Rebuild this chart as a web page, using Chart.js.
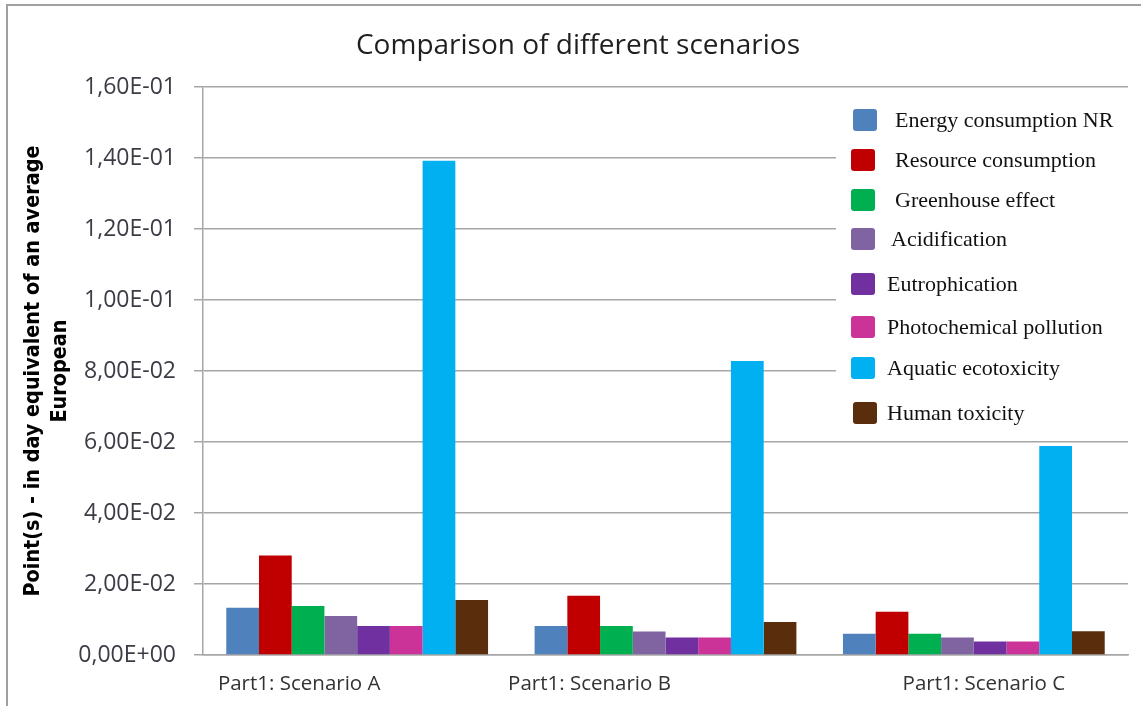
<!DOCTYPE html>
<html><head><meta charset="utf-8">
<script src="https://cdn.jsdelivr.net/npm/chart.js@4.4.1/dist/chart.umd.min.js"></script>
<style>html,body{margin:0;padding:0;background:#fff;overflow:hidden}</style>
</head><body>
<canvas id="c" width="1141" height="706"></canvas>
<script>
const categories = ["Part1: Scenario A", "Part1: Scenario B", "Part1: Scenario C"];
const seriesNames = ["Energy consumption NR", "Resource consumption", "Greenhouse effect", "Acidification",
  "Eutrophication", "Photochemical pollution", "Aquatic ecotoxicity", "Human toxicity"];
const energy = [0.0133, 0.0082, 0.0060];
const resource = [0.0280, 0.0167, 0.0122];
const greenhouse = [0.0138, 0.0082, 0.0060];
const acidification = [0.0110, 0.0066, 0.0049];
const eutrophication = [0.0082, 0.0049, 0.0038];
const photochemical = [0.0082, 0.0049, 0.0038];
const aquatic = [0.1392, 0.0828, 0.0589];
const human = [0.0155, 0.0093, 0.0067];
const yTickLabels = ["0,00E+00", "2,00E-02", "4,00E-02", "6,00E-02", "8,00E-02", "1,00E-01", "1,20E-01", "1,40E-01", "1,60E-01"];
const chartTitle = "Comparison of different scenarios";
const yTitle = ["Point(s) - in day equivalent of an average", "European"];

const seriesValues = [energy, resource, greenhouse, acidification, eutrophication, photochemical, aquatic, human];
const colors = ["#4F81BD", "#C00000", "#00B050", "#8064A2", "#7030A0", "#CC3399", "#00B0F0", "#5A2D0C"];

const GRID = "#a6a6a6";
const SANS = "'Open Sans', 'Noto Sans', sans-serif";

const decorPlugin = {
  id: "decor",
  beforeDraw(chart) {
    const ctx = chart.ctx;
    ctx.save();
    ctx.fillStyle = "#fff";
    ctx.fillRect(0, 0, chart.width, chart.height);
    ctx.strokeStyle = "#a0a0a0";
    ctx.lineWidth = 2;
    ctx.beginPath();
    ctx.moveTo(7, chart.height);
    ctx.lineTo(7, 5);
    ctx.lineTo(chart.width, 5);
    ctx.stroke();
    ctx.restore();
  },
  afterDraw(chart) {
    const ctx = chart.ctx;
    ctx.save();
    // title
    ctx.fillStyle = "#1f1f1f";
    ctx.font = "28px " + SANS;
    ctx.textAlign = "center";
    ctx.textBaseline = "middle";
    ctx.fillText(chartTitle, 578, 46);
    // x category labels
    const xs = chart.scales.x;
    const shift = [-58, -76, 10];
    ctx.fillStyle = "#333";
    ctx.font = "20.5px " + SANS;
    categories.forEach((c, i) => {
      ctx.fillText(c, xs.getPixelForValue(i) + shift[i], 684);
    });
    // legend
    ctx.fillStyle = "#fff";
    ctx.fillRect(836, 93, 300, 342);
    const rowY = [120, 160, 200, 239, 284, 327, 368, 413];
    const textX = [895, 895, 895, 891, 887, 887, 887, 887];
    const boxX = [853, 851, 851, 851, 851, 851, 851, 853];
    ctx.font = "22px 'Liberation Serif', 'DejaVu Serif', serif";
    ctx.textAlign = "left";
    seriesNames.forEach((n, i) => {
      ctx.fillStyle = colors[i];
      ctx.beginPath();
      ctx.roundRect(boxX[i], rowY[i] - 11, 24, 22, 3);
      ctx.fill();
      ctx.fillStyle = "#111";
      ctx.fillText(n, textX[i], rowY[i] + 1);
    });
    ctx.restore();
  }
};

new Chart(document.getElementById("c"), {
  type: "bar",
  data: {
    labels: categories,
    datasets: seriesNames.map((n, i) => ({
      label: n,
      data: seriesValues[i],
      backgroundColor: colors[i],
      borderWidth: 0,
      categoryPercentage: 0.849,
      barPercentage: 1
    }))
  },
  options: {
    responsive: false,
    animation: false,
    devicePixelRatio: 1,
    layout: { padding: { top: 87, right: 13, left: 0, bottom: 0 } },
    plugins: { legend: { display: false }, title: { display: false }, tooltip: { enabled: false } },
    scales: {
      x: {
        grid: { display: false },
        border: { display: true, color: GRID, width: 1.5 },
        ticks: { display: false },
        afterFit(s) { s.height = 51; }
      },
      y: {
        min: 0, max: 0.16,
        ticks: {
          stepSize: 0.02,
          padding: 18,
          color: "#3c3c46",
          font: { family: SANS, size: 23 },
          callback: (v, i) => yTickLabels[i]
        },
        grid: { color: GRID, lineWidth: 1.5, tickLength: 9 },
        border: { display: true, color: GRID, width: 1.5 },
        title: {
          display: true,
          text: yTitle,
          color: "#000",
          padding: { top: 19.5, bottom: 0 },
          font: { family: "'Liberation Sans Narrow', 'DejaVu Sans Condensed', 'Liberation Sans', sans-serif", size: 21.4, weight: "bold", lineHeight: 1.262 }
        },
        afterFit(s) { s.width = 203; }
      }
    }
  },
  plugins: [decorPlugin]
});
</script>
</body></html>
